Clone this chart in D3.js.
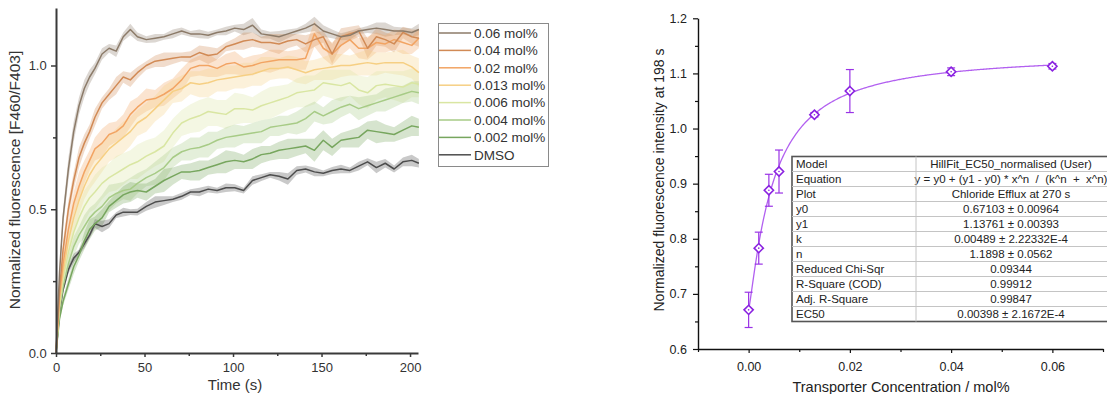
<!DOCTYPE html>
<html>
<head>
<meta charset="utf-8">
<script src="https://cdn.jsdelivr.net/npm/d3@7"></script>
<style>
  html, body { margin: 0; padding: 0; background: #fff; }
  svg { display: block; font-family: "Liberation Sans", Arial, sans-serif; }
</style>
</head>
<body>
<svg id="fig" width="1107" height="394"></svg>
<script>
// ---------- Kinetics panel data ----------
const times = [0, 2, 4, 7, 10, 13, 16, 19, 22, 26, 30, 34, 38, 42, 46, 51, 56, 61, 66, 71, 76, 81, 86, 91, 96,
  101, 106, 111, 116, 121, 126, 131, 136, 141, 146, 151, 156, 161, 166, 171, 176, 181, 186, 191, 196, 201, 205];

const seriesLabels = ["0.06 mol%", "0.04 mol%", "0.02 mol%", "0.013 mol%", "0.006 mol%", "0.004 mol%", "0.002 mol%", "DMSO"];

const v060 = [0, 0.28, 0.47, 0.64, 0.77, 0.86, 0.92, 0.96, 0.99, 1.04, 1.06, 1.05, 1.10, 1.125, 1.10, 1.09, 1.095, 1.10, 1.11, 1.12, 1.11, 1.11, 1.105, 1.115, 1.12,
  1.13, 1.125, 1.14, 1.11, 1.105, 1.10, 1.11, 1.12, 1.13, 1.145, 1.12, 1.11, 1.10, 1.105, 1.12, 1.125, 1.13, 1.125, 1.12, 1.12, 1.115, 1.125];
const v040 = [0, 0.22, 0.36, 0.50, 0.60, 0.68, 0.73, 0.77, 0.82, 0.87, 0.90, 0.93, 0.96, 0.95, 0.975, 1.00, 1.015, 1.02, 1.025, 1.03, 1.03, 1.045, 1.035, 1.04, 1.065,
  1.075, 1.085, 1.09, 1.08, 1.08, 1.075, 1.085, 1.09, 1.075, 1.09, 1.10, 1.04, 1.10, 1.11, 1.12, 1.06, 1.10, 1.09, 1.075, 1.115, 1.10, 1.095];
const v020 = [0, 0.20, 0.31, 0.43, 0.52, 0.58, 0.63, 0.67, 0.71, 0.73, 0.76, 0.77, 0.79, 0.83, 0.855, 0.88, 0.885, 0.90, 0.92, 0.95, 0.99, 1.00, 1.00, 0.99, 1.005,
  1.01, 0.995, 1.00, 1.01, 1.015, 1.02, 1.02, 1.02, 1.025, 1.11, 1.06, 1.04, 1.07, 1.09, 1.06, 1.06, 1.08, 1.075, 1.09, 1.08, 1.07, 1.095];
const v013 = [0, 0.18, 0.28, 0.39, 0.47, 0.53, 0.58, 0.62, 0.65, 0.68, 0.71, 0.73, 0.75, 0.77, 0.80, 0.82, 0.85, 0.88, 0.91, 0.92, 0.94, 0.935, 0.94, 0.95, 0.955,
  0.96, 0.965, 0.97, 0.98, 0.99, 0.99, 0.995, 0.985, 0.975, 0.985, 0.99, 0.995, 1.00, 1.00, 1.005, 1.01, 1.005, 1.01, 1.01, 1.01, 0.995, 0.975];
const v006 = [0, 0.16, 0.26, 0.35, 0.42, 0.47, 0.51, 0.54, 0.56, 0.59, 0.61, 0.625, 0.64, 0.655, 0.665, 0.685, 0.70, 0.72, 0.765, 0.80, 0.815, 0.825, 0.84, 0.835, 0.83,
  0.85, 0.85, 0.845, 0.86, 0.87, 0.88, 0.89, 0.905, 0.91, 0.915, 0.94, 0.935, 0.93, 0.94, 0.915, 0.905, 0.93, 0.935, 0.93, 0.925, 0.94, 0.935];
const v004 = [0, 0.15, 0.23, 0.31, 0.37, 0.41, 0.44, 0.47, 0.49, 0.51, 0.54, 0.555, 0.565, 0.57, 0.59, 0.61, 0.625, 0.645, 0.68, 0.70, 0.71, 0.715, 0.725, 0.74, 0.75,
  0.755, 0.76, 0.765, 0.77, 0.785, 0.79, 0.795, 0.80, 0.815, 0.84, 0.825, 0.84, 0.855, 0.865, 0.85, 0.86, 0.87, 0.88, 0.89, 0.90, 0.91, 0.905];
const v002 = [0, 0.12, 0.18, 0.24, 0.30, 0.34, 0.39, 0.43, 0.45, 0.47, 0.51, 0.53, 0.55, 0.56, 0.565, 0.56, 0.58, 0.60, 0.615, 0.63, 0.63, 0.635, 0.645, 0.655, 0.665,
  0.67, 0.665, 0.675, 0.69, 0.695, 0.705, 0.71, 0.715, 0.72, 0.705, 0.74, 0.715, 0.74, 0.745, 0.75, 0.775, 0.77, 0.765, 0.76, 0.775, 0.79, 0.785];
const vDMSO = [0, 0.14, 0.22, 0.29, 0.33, 0.35, 0.38, 0.41, 0.45, 0.44, 0.45, 0.48, 0.49, 0.49, 0.49, 0.51, 0.525, 0.53, 0.535, 0.545, 0.56, 0.56, 0.57, 0.565, 0.575,
  0.575, 0.565, 0.60, 0.61, 0.62, 0.615, 0.605, 0.635, 0.64, 0.63, 0.625, 0.635, 0.64, 0.635, 0.65, 0.665, 0.645, 0.66, 0.64, 0.665, 0.67, 0.66];

// standard deviations (half-width of the shaded bands)
const sd060 = [0, 0.02, 0.03, 0.04, 0.035, 0.03, 0.03, 0.025, 0.02, 0.02, 0.015, 0.02, 0.015, 0.02, 0.015, 0.012, 0.015, 0.01, 0.015, 0.012, 0.01, 0.015, 0.012, 0.01, 0.015,
  0.012, 0.02, 0.025, 0.015, 0.012, 0.02, 0.015, 0.01, 0.015, 0.025, 0.02, 0.015, 0.012, 0.015, 0.01, 0.012, 0.02, 0.025, 0.015, 0.012, 0.015, 0.02];
const sd040 = [0, 0.02, 0.03, 0.03, 0.03, 0.035, 0.03, 0.025, 0.03, 0.02, 0.02, 0.03, 0.02, 0.025, 0.02, 0.015, 0.02, 0.025, 0.02, 0.015, 0.02, 0.025, 0.03, 0.02, 0.015,
  0.02, 0.03, 0.025, 0.02, 0.03, 0.035, 0.025, 0.02, 0.03, 0.025, 0.02, 0.035, 0.03, 0.025, 0.02, 0.035, 0.03, 0.025, 0.03, 0.02, 0.025, 0.03];
const sd020 = [0, 0.02, 0.03, 0.04, 0.04, 0.05, 0.04, 0.035, 0.04, 0.05, 0.04, 0.035, 0.04, 0.045, 0.035, 0.04, 0.03, 0.04, 0.035, 0.04, 0.03, 0.035, 0.04, 0.03, 0.035,
  0.04, 0.03, 0.035, 0.03, 0.04, 0.035, 0.03, 0.035, 0.04, 0.045, 0.035, 0.04, 0.035, 0.03, 0.035, 0.04, 0.035, 0.03, 0.035, 0.04, 0.03, 0.035];
const sd013 = [0, 0.02, 0.03, 0.04, 0.05, 0.05, 0.045, 0.05, 0.055, 0.05, 0.045, 0.05, 0.055, 0.05, 0.045, 0.05, 0.045, 0.05, 0.04, 0.045, 0.04, 0.045, 0.05, 0.04, 0.045,
  0.04, 0.045, 0.04, 0.05, 0.04, 0.035, 0.04, 0.045, 0.04, 0.035, 0.04, 0.045, 0.04, 0.035, 0.04, 0.045, 0.04, 0.035, 0.04, 0.045, 0.04, 0.05];
const sd006 = [0, 0.02, 0.03, 0.04, 0.045, 0.05, 0.055, 0.05, 0.06, 0.055, 0.05, 0.06, 0.055, 0.05, 0.06, 0.055, 0.05, 0.055, 0.05, 0.045, 0.05, 0.055, 0.05, 0.045, 0.05,
  0.055, 0.05, 0.045, 0.05, 0.055, 0.05, 0.045, 0.05, 0.055, 0.05, 0.045, 0.05, 0.055, 0.045, 0.05, 0.055, 0.05, 0.045, 0.05, 0.055, 0.05, 0.045];
const sd004 = [0, 0.015, 0.02, 0.03, 0.035, 0.03, 0.04, 0.035, 0.03, 0.04, 0.045, 0.035, 0.03, 0.04, 0.035, 0.03, 0.04, 0.045, 0.035, 0.03, 0.04, 0.035, 0.045, 0.03, 0.035,
  0.04, 0.03, 0.035, 0.04, 0.03, 0.035, 0.03, 0.04, 0.045, 0.035, 0.03, 0.04, 0.035, 0.03, 0.04, 0.035, 0.03, 0.04, 0.035, 0.03, 0.035, 0.04];
const sd002 = [0, 0.01, 0.015, 0.02, 0.025, 0.02, 0.03, 0.035, 0.025, 0.03, 0.02, 0.025, 0.03, 0.035, 0.025, 0.03, 0.025, 0.04, 0.03, 0.025, 0.03, 0.035, 0.025, 0.03, 0.04,
  0.03, 0.025, 0.035, 0.03, 0.025, 0.03, 0.035, 0.03, 0.025, 0.04, 0.035, 0.03, 0.025, 0.03, 0.035, 0.03, 0.04, 0.03, 0.025, 0.03, 0.035, 0.03];
const sdDMSO = [0, 0.01, 0.01, 0.015, 0.015, 0.01, 0.015, 0.01, 0.015, 0.02, 0.015, 0.01, 0.015, 0.01, 0.012, 0.015, 0.02, 0.015, 0.01, 0.012, 0.01, 0.015, 0.012, 0.01, 0.015,
  0.012, 0.01, 0.015, 0.012, 0.01, 0.015, 0.02, 0.015, 0.012, 0.015, 0.01, 0.012, 0.015, 0.01, 0.015, 0.012, 0.02, 0.015, 0.012, 0.015, 0.02, 0.015];

const seriesValues = [v060, v040, v020, v013, v006, v004, v002, vDMSO];
const seriesSD = [sd060, sd040, sd020, sd013, sd006, sd004, sd002, sdDMSO];
const seriesColors = ["#8c7b69", "#d18a55", "#f2a463", "#f6cf83", "#d9e6a2", "#a7cb86", "#77a65e", "#4d4d4d"];

const kinXTicks = [0, 50, 100, 150, 200];
const kinYTicks = [0, 0.5, 1.0];

// ---------- Dose-response panel data ----------
const conc = [0, 0.002, 0.004, 0.006, 0.013, 0.02, 0.04, 0.06];
const intensity = [0.671, 0.783, 0.888, 0.922, 1.025, 1.068, 1.103, 1.113];
const intensityErr = [0.032, 0.029, 0.029, 0.039, 0.004, 0.039, 0.007, 0.005];
const doseXTicks = [0, 0.02, 0.04, 0.06];
const doseYTicks = [0.6, 0.7, 0.8, 0.9, 1.0, 1.1, 1.2];
const fitY0 = 0.67103, fitY1 = 1.13761, fitK = 0.00489, fitN = 1.1898;

const tableKeys = ["Model", "Equation", "Plot", "y0", "y1", "k", "n", "Reduced Chi-Sqr", "R-Square (COD)", "Adj. R-Square", "EC50"];
const tableValues = ["HillFit_EC50_normalised (User)", "y = y0 + (y1 - y0) * x^n  /  (k^n  +  x^n)", "Chloride Efflux at 270 s",
  "0.67103 \u00b1 0.00964", "1.13761 \u00b1 0.00393", "0.00489 \u00b1 2.22332E-4", "1.1898 \u00b1 0.0562",
  "0.09344", "0.99912", "0.99847", "0.00398 \u00b1 2.1672E-4"];

const svg = d3.select("#fig");

// ================= Left panel: fluorescence kinetics =================
{
  const x = d3.scaleLinear().domain([0, 204.5]).range([56, 418]);
  const y = d3.scaleLinear().domain([0, 1.2]).range([353, 8]);
  const g = svg.append("g");

  const area = (vals, sds) => d3.area()
    .x((d, i) => x(times[i]))
    .y0((d, i) => y(Math.max(0, vals[i] - sds[i])))
    .y1((d, i) => y(vals[i] + sds[i]))(vals);
  const line = d3.line().x((d, i) => x(times[i])).y(d => y(d));

  // shaded deviation bands
  seriesValues.forEach((vals, s) => {
    g.append("path").attr("d", area(vals, seriesSD[s]))
      .attr("fill", seriesColors[s]).attr("fill-opacity", 0.3).attr("stroke", "none");
  });
  // mean traces
  seriesValues.slice().reverse().forEach((vals, r) => {
    const s = seriesValues.length - 1 - r;
    g.append("path").attr("d", line(vals))
      .attr("fill", "none").attr("stroke", seriesColors[s]).attr("stroke-width", 1.5)
      .attr("stroke-linejoin", "round");
  });

  // axes
  const axisColor = "#3a3a3a";
  const xAxis = g.append("g").attr("transform", "translate(0,353)")
    .call(d3.axisBottom(x).tickValues(kinXTicks).tickSize(4).tickSizeOuter(0).tickFormat(d3.format("d")));
  g.append("g").attr("transform", "translate(0,353)")
    .call(d3.axisBottom(x).tickValues([25, 75, 125, 175]).tickSize(3).tickSizeOuter(0).tickFormat(""))
    .call(a => a.select(".domain").remove());
  const yAxis = g.append("g").attr("transform", "translate(56,0)")
    .call(d3.axisLeft(y).tickValues(kinYTicks).tickSize(5).tickSizeOuter(0).tickFormat(d3.format(".1f")));
  g.append("g").attr("transform", "translate(56,0)")
    .call(d3.axisLeft(y).tickValues([0.25, 0.75]).tickSize(3).tickSizeOuter(0).tickFormat(""))
    .call(a => a.select(".domain").remove());

  g.selectAll(".domain").attr("stroke", axisColor).attr("stroke-width", 2);
  g.selectAll(".tick line").attr("stroke", axisColor).attr("stroke-width", 1.5);
  g.selectAll(".tick text").attr("fill", "#333").attr("font-size", 13)
    .attr("font-family", "Liberation Sans, Arial, sans-serif");
  xAxis.selectAll(".tick text").attr("dy", "0.95em");
  yAxis.selectAll(".tick text").attr("dx", "-0.1em");

  g.append("text").attr("x", 235).attr("y", 390).attr("text-anchor", "middle")
    .attr("font-size", 15).attr("fill", "#333").text("Time (s)");
  g.append("text").attr("transform", "translate(20,180) rotate(-90)").attr("text-anchor", "middle")
    .attr("font-size", 15.5).attr("fill", "#333").text("Normalized fluorescence [F460/F403]");

  // legend
  const lg = svg.append("g");
  lg.append("rect").attr("x", 438.5).attr("y", 23.5).attr("width", 110).attr("height", 143)
    .attr("fill", "#fff").attr("stroke", "#8a8a8a").attr("stroke-width", 1);
  seriesLabels.forEach((lab, i) => {
    const yy = 33 + i * 17.4;
    lg.append("line").attr("x1", 439).attr("x2", 471).attr("y1", yy).attr("y2", yy)
      .attr("stroke", seriesColors[i]).attr("stroke-width", 1.5);
    lg.append("text").attr("x", 474).attr("y", yy).attr("dy", "0.36em")
      .attr("font-size", 13.5).attr("fill", "#333").text(lab);
  });
}

// ================= Right panel: dose response =================
{
  const x = d3.scaleLinear().domain([-0.01, 0.07]).range([698, 1103]);
  const y = d3.scaleLinear().domain([0.6, 1.2]).range([349, 18.3]);
  const g = svg.append("g");
  const purple = "#9a33e6";

  // Hill fit curve from the fitted parameters
  const hill = c => fitY0 + (fitY1 - fitY0) * Math.pow(c, fitN) / (Math.pow(fitK, fitN) + Math.pow(c, fitN));
  const fitX = d3.range(0, 0.06001, 0.0002);
  g.append("path").attr("d", d3.line().x(c => x(c)).y(c => y(hill(c)))(fitX))
    .attr("fill", "none").attr("stroke", "#b260f0").attr("stroke-width", 1.3);

  // error bars
  conc.forEach((c, i) => {
    const cx = x(c), top = y(intensity[i] + intensityErr[i]), bot = y(intensity[i] - intensityErr[i]);
    g.append("line").attr("x1", cx).attr("x2", cx).attr("y1", top).attr("y2", bot)
      .attr("stroke", purple).attr("stroke-width", 1.2);
    [top, bot].forEach(yy => g.append("line").attr("x1", cx - 4).attr("x2", cx + 4).attr("y1", yy).attr("y2", yy)
      .attr("stroke", purple).attr("stroke-width", 1.2));
  });
  // diamond markers
  conc.forEach((c, i) => {
    const cx = x(c), cy = y(intensity[i]), r = 4.6;
    g.append("path").attr("d", `M${cx},${cy - r}L${cx + r},${cy}L${cx},${cy + r}L${cx - r},${cy}Z`)
      .attr("fill", "#fff").attr("stroke", "#8a22e0").attr("stroke-width", 1.6);
    g.append("circle").attr("cx", cx).attr("cy", cy).attr("r", 0.8).attr("fill", "#8a22e0");
  });

  // axes
  const xAxis = g.append("g").attr("transform", "translate(0,349)")
    .call(d3.axisBottom(x).tickValues(doseXTicks).tickSize(4).tickSizeOuter(0).tickFormat(d3.format(".2f")));
  g.append("g").attr("transform", "translate(0,349)")
    .call(d3.axisBottom(x).tickValues([-0.01, 0.01, 0.03, 0.05, 0.07]).tickSize(3).tickSizeOuter(0).tickFormat(""))
    .call(a => a.select(".domain").remove());
  const yAxis = g.append("g").attr("transform", "translate(698,0)")
    .call(d3.axisLeft(y).tickValues(doseYTicks).tickSize(5).tickSizeOuter(0).tickFormat(d3.format(".1f")));
  g.append("g").attr("transform", "translate(698,0)")
    .call(d3.axisLeft(y).tickValues([0.65, 0.75, 0.85, 0.95, 1.05, 1.15]).tickSize(3).tickSizeOuter(0).tickFormat(""))
    .call(a => a.select(".domain").remove());
  g.selectAll(".domain").attr("stroke", "#111").attr("stroke-width", 1.4);
  g.selectAll(".tick line").attr("stroke", "#111").attr("stroke-width", 1.2);
  g.selectAll(".tick text").attr("fill", "#222").attr("font-size", 12.5)
    .attr("font-family", "Liberation Sans, Arial, sans-serif");
  xAxis.selectAll(".tick text").attr("dy", "1.2em");
  yAxis.selectAll(".tick text").attr("dx", "-0.25em");

  g.append("text").attr("x", 901).attr("y", 392).attr("text-anchor", "middle")
    .attr("font-size", 14.5).attr("fill", "#222").text("Transporter Concentration / mol%");
  g.append("text").attr("transform", "translate(664,180) rotate(-90)").attr("text-anchor", "middle")
    .attr("font-size", 14).attr("fill", "#222").text("Normalized fluorescence intensity at 198 s");

  // fit parameter table
  const tx = 792, ty = 156.5, rowH = 15, colX = 916, tRight = 1109;
  const tg = svg.append("g");
  tg.append("rect").attr("x", tx).attr("y", ty).attr("width", tRight - tx).attr("height", rowH * tableKeys.length)
    .attr("fill", "#fff").attr("stroke", "#555").attr("stroke-width", 1.6);
  tableKeys.forEach((k, i) => {
    const yy = ty + i * rowH;
    if (i > 0) tg.append("line").attr("x1", tx).attr("x2", tRight).attr("y1", yy).attr("y2", yy)
      .attr("stroke", "#c4c4c4").attr("stroke-width", 1);
    tg.append("text").attr("x", tx + 4).attr("y", yy + rowH / 2).attr("dy", "0.36em")
      .attr("font-size", 11.5).attr("fill", "#222").text(k);
    tg.append("text").attr("x", 1011).attr("y", yy + rowH / 2).attr("dy", "0.36em")
      .attr("text-anchor", "middle").attr("font-size", 11.5).attr("fill", "#222")
      .attr("xml:space", "preserve").style("white-space", "pre").text(tableValues[i]);
  });
  tg.append("line").attr("x1", colX).attr("x2", colX).attr("y1", ty).attr("y2", ty + rowH * tableKeys.length)
    .attr("stroke", "#c4c4c4").attr("stroke-width", 1);
}
</script>
</body>
</html>
